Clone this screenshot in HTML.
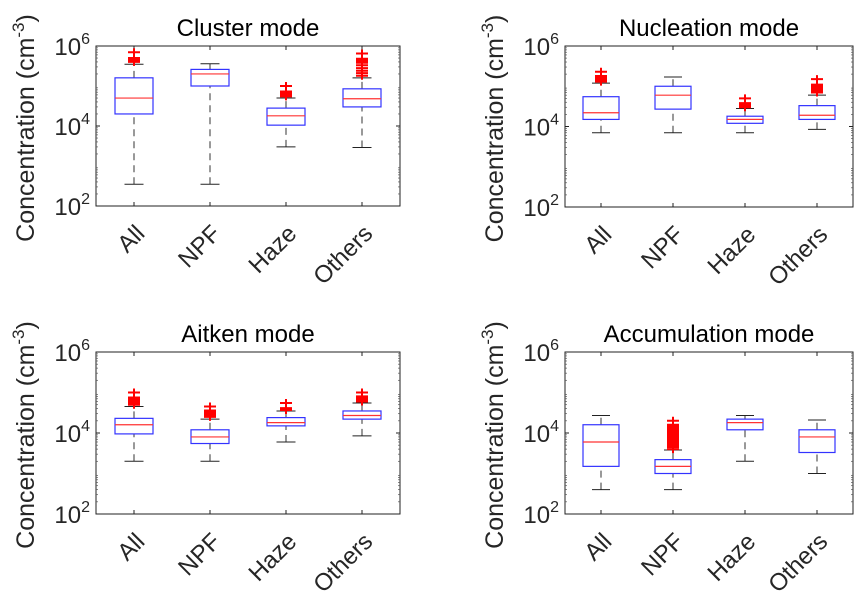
<!DOCTYPE html>
<html><head><meta charset="utf-8"><style>
html,body{margin:0;padding:0;background:#fff;}
svg{display:block;font-family:"Liberation Sans",sans-serif;}
</style></head><body>
<svg id="chart" width="862" height="596" viewBox="0 0 862 596" xmlns="http://www.w3.org/2000/svg"></svg>
<script>
const categories = ["All","NPF","Haze","Others"];
const panelTitles = ["Cluster mode","Nucleation mode","Aitken mode","Accumulation mode"];
const yTickExps = [2,4,6];
// stats per panel: [low whisker, q1, median, q3, high whisker] for each category
const clusterStats = [[350,2e4,5e4,1.6e5,3.5e5],[350,1e5,2e5,2.6e5,3.6e5],[3e3,1.05e4,1.8e4,2.8e4,5e4],[2.9e3,3e4,4.8e4,8.5e4,1.6e5]];
const nucleationStats = [[7e3,1.5e4,2.2e4,5.5e4,1.2e5],[7e3,2.7e4,6e4,1e5,1.7e5],[7e3,1.2e4,1.5e4,1.8e4,2.8e4],[8.5e3,1.5e4,1.9e4,3.3e4,6e4]];
const aitkenStats = [[2e3,9.5e3,1.6e4,2.3e4,4.5e4],[2e3,5.5e3,8e3,1.2e4,2.2e4],[6e3,1.5e4,1.8e4,2.4e4,3.5e4],[8.5e3,2.2e4,2.7e4,3.5e4,5.5e4]];
const accumulationStats = [[400,1.5e3,6e3,1.6e4,2.7e4],[400,1e3,1.5e3,2.2e3,3.8e3],[2e3,1.2e4,1.8e4,2.2e4,2.7e4],[1e3,3.3e3,8e3,1.2e4,2.1e4]];
// outlier values per category
const clusterOutliers = [[4e5,4.2e5,4.4e5,4.6e5,4.8e5,5e5,7e5],[],[5.5e4,5.8e4,6.1e4,6.4e4,6.7e4,7e4,7.3e4,1e5],[1.8e5,2.1e5,2.4e5,2.8e5,3.3e5,3.8e5,4e5,4.2e5,4.4e5,4.6e5,4.8e5,6.5e5]];
const nucleationOutliers = [[1.3e5,1.37e5,1.44e5,1.51e5,1.58e5,1.65e5,1.72e5,1.8e5,2.3e5],[],[3e4,3.2e4,3.4e4,3.6e4,3.8e4,5e4],[7e4,7.5e4,8e4,8.5e4,9e4,9.5e4,1e5,1.05e5,1.1e5,1.5e5]];
const aitkenOutliers = [[5e4,5.3e4,5.6e4,6e4,6.3e4,6.6e4,7e4,7.5e4,1e5],[2.5e4,2.7e4,2.9e4,3.1e4,3.3e4,3.6e4,4.5e4],[3.7e4,3.9e4,4.1e4,5.5e4],[6e4,6.4e4,6.8e4,7.2e4,7.6e4,8e4,1e5]];
const accumulationOutliers = [[],[4e3,4.5e3,5e3,5.5e3,6e3,6.5e3,7e3,7.5e3,8e3,8.5e3,9e3,1e4,1.1e4,1.2e4,1.3e4,1.4e4,1.5e4,1.6e4,2e4],[],[]];

const allStats=[clusterStats,nucleationStats,aitkenStats,accumulationStats];
const allOut=[clusterOutliers,nucleationOutliers,aitkenOutliers,accumulationOutliers];
const layouts=[{x0:96,x1:400,y0:46,y1:206},{x0:565,x1:853,y0:46,y1:207},{x0:96,x1:400,y0:352,y1:514},{x0:565,x1:853,y0:352,y1:514}];
const NS="http://www.w3.org/2000/svg";
const svg=document.getElementById('chart');
function mk(tag,attrs,parent){const e=document.createElementNS(NS,tag);for(const k in attrs)e.setAttribute(k,attrs[k]);(parent||svg).appendChild(e);return e;}

layouts.forEach((L,p)=>{
  const g=mk('g',{});
  
  
  const xs=i=>L.x0+(i+0.5)*(L.x1-L.x0)/4;
  const ys=v=>L.y1-(Math.log10(v)-2)/4*(L.y1-L.y0);
  const unit=(L.x1-L.x0)/4;
  const ax=mk('rect',{x:L.x0,y:L.y0,width:L.x1-L.x0,height:L.y1-L.y0,fill:'none',stroke:'#222','stroke-width':1},g);
  
  
  for(let d=2;d<6;d++)for(let m=2;m<=9;m++){const y=ys(m*Math.pow(10,d));
    mk('line',{x1:L.x0,x2:L.x0+2,y1:y,y2:y,stroke:'#555','stroke-width':0.7},g);
    mk('line',{x1:L.x1,x2:L.x1-2,y1:y,y2:y,stroke:'#555','stroke-width':0.7},g);}
  yTickExps.forEach(e=>{const y=ys(Math.pow(10,e));
    mk('line',{x1:L.x0,x2:L.x0+4,y1:y,y2:y,stroke:'#222'},g);
    mk('line',{x1:L.x1,x2:L.x1-4,y1:y,y2:y,stroke:'#222'},g);
    const t=mk('text',{x:L.x0-6,y:y+9,'text-anchor':'end','font-size':24,fill:'#262626'},g);
    t.innerHTML='10<tspan dy="-11" font-size="16">'+e+'</tspan>';
    
    
  });
  const ti=mk('text',{x:(L.x0+L.x1)/2,y:L.y0-10,'text-anchor':'middle','font-size':24,fill:'#000'},g);
  ti.textContent=panelTitles[p];
  
  
  const lx=L.x0-62, ly=(L.y0+L.y1)/2+2;
  const yl=mk('text',{x:lx,y:ly,'text-anchor':'middle','font-size':25,fill:'#262626',transform:`rotate(-90 ${lx} ${ly})`},g);
  yl.innerHTML='Concentration (cm<tspan dy="-10" font-size="17">-3</tspan><tspan dy="10">)</tspan>';
  
  
  categories.forEach((c,i)=>{
    const x=xs(i);
    mk('line',{x1:x,x2:x,y1:L.y1,y2:L.y1-4,stroke:'#222'},g);
    mk('line',{x1:x,x2:x,y1:L.y0,y2:L.y0+4,stroke:'#222'},g);
    const tx=x+12, ty=L.y1+29;
    const cl=mk('text',{x:tx,y:ty,'text-anchor':'end','font-size':24,fill:'#262626',transform:`rotate(-45 ${tx} ${ty})`},g);
    cl.textContent=c;
    
    
    const s=allStats[p][i];
    const bw=unit*0.5, cw=unit*0.25;
    const bg=mk('g',{},g);
    
    
    mk('line',{x1:x,x2:x,y1:ys(s[0]),y2:ys(s[1]),stroke:'#333','stroke-dasharray':'7,5'},bg);
    mk('line',{x1:x,x2:x,y1:ys(s[3]),y2:ys(s[4]),stroke:'#333','stroke-dasharray':'7,5'},bg);
    mk('line',{x1:x-cw/2,x2:x+cw/2,y1:ys(s[0]),y2:ys(s[0]),stroke:'#222'},bg);
    mk('line',{x1:x-cw/2,x2:x+cw/2,y1:ys(s[4]),y2:ys(s[4]),stroke:'#222'},bg);
    mk('rect',{x:x-bw/2,y:ys(s[3]),width:bw,height:ys(s[1])-ys(s[3]),fill:'none',stroke:'#33f','stroke-width':1.2},bg);
    mk('line',{x1:x-bw/2,x2:x+bw/2,y1:ys(s[2]),y2:ys(s[2]),stroke:'#f33','stroke-width':1.2},bg);
    allOut[p][i].forEach(v=>{const y=ys(v);
      const o=mk('path',{d:`M${x-6},${y}H${x+6}M${x},${y-4}V${y+4}`,stroke:'#f00','stroke-width':2},bg);
      
      
    });
  });
});
</script>
</body></html>
